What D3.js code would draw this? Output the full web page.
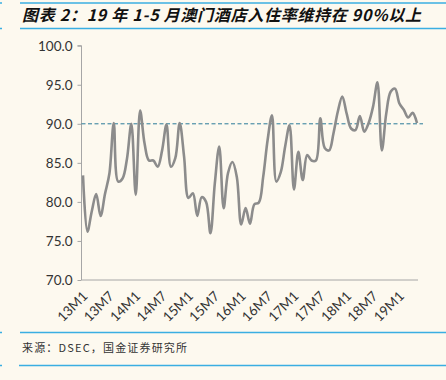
<!DOCTYPE html>
<html><head><meta charset="utf-8">
<script src="https://cdn.jsdelivr.net/npm/d3@7"></script>
<style>
html,body{margin:0;padding:0;background:#fdf9ef;}
svg{display:block;}
</style></head>
<body>
<script>
const title = "图表 2：19 年 1-5 月澳门酒店入住率维持在 90%以上";
const source = "来源：DSEC，国金证券研究所";
const yTicks = [70, 75, 80, 85, 90, 95, 100];
const refValue = 90;
// monthly periods 13M1 .. 19M5
const months = [];
for (let y = 13; y <= 19; y++) for (let m = 1; m <= 12; m++) { if (y === 19 && m > 5) break; months.push(y + "M" + m); }
const xTickLabels = ["13M1","13M7","14M1","14M7","15M1","15M7","16M1","16M7","17M1","17M7","18M1","18M7","19M1"];
const occupancy = [
  83.4, 76.2, 78.8, 81.0, 78.2, 81.0, 83.6, 90.1, 82.6, 83.0, 85.5, 90.0,
  80.9, 91.7, 87.5, 85.3, 85.3, 84.5, 86.6, 89.9, 84.5, 85.6, 90.1, 85.8,
  80.5, 81.1, 78.2, 80.6, 80.0, 76.0, 82.4, 87.1, 79.2, 83.7, 85.1, 83.2,
  77.1, 79.2, 77.2, 79.7, 79.9, 83.2, 87.9, 91.1, 82.6, 83.8, 87.1, 89.8,
  81.6, 86.4, 82.8, 86.0, 85.3, 85.3, 90.7, 86.9, 86.6, 88.8, 91.6, 93.5,
  91.3, 89.4, 89.2, 91.0, 89.0, 90.1, 92.2, 95.3, 86.6, 91.3, 94.1, 94.5,
  92.6, 91.8, 90.8, 91.4, 90.1
];

const W = 446, H = 380;
const svg = d3.select("body").append("svg").attr("width", W).attr("height", H);
const blue = "#3aaee2";

// frame lines
svg.append("line").attr("x1", 20).attr("x2", W).attr("y1", 3).attr("y2", 3).attr("stroke", blue).attr("stroke-width", 1.5);
svg.append("line").attr("x1", 20).attr("x2", W).attr("y1", 28.5).attr("y2", 28.5).attr("stroke", blue).attr("stroke-width", 1.5);
svg.append("line").attr("x1", 20).attr("x2", W).attr("y1", 332.5).attr("y2", 332.5).attr("stroke", blue).attr("stroke-width", 1.5);
svg.append("line").attr("x1", 19).attr("x2", W).attr("y1", 365.5).attr("y2", 365.5).attr("stroke", blue).attr("stroke-width", 1.5);
[3, 28.5, 332.5, 365.5].forEach(y => svg.append("line").attr("x1", 0).attr("x2", 2).attr("y1", y).attr("y2", y).attr("stroke", blue).attr("stroke-width", 1.5));

svg.append("text").attr("x", 22).attr("y", 21).text(title)
  .attr("font-family", "'Noto Sans CJK SC', sans-serif").attr("font-weight", "bold").attr("font-style", "italic")
  .attr("font-size", 16).attr("fill", "#111")
  .attr("textLength", 399).attr("lengthAdjust", "spacing");

svg.append("text").attr("x", 22).attr("y", 352).text(source)
  .attr("font-family", "'Noto Sans CJK SC', sans-serif").attr("font-size", 11).attr("fill", "#333")
  .attr("textLength", 165).attr("lengthAdjust", "spacing");

const x = d3.scalePoint().domain(months).range([83, 417]);
const y = d3.scaleLinear().domain([70, 100]).range([280, 45.7]);
const plotLeft = 81.5, plotRight = 418;

// y axis
const yAxis = svg.append("g").attr("transform", `translate(${plotLeft},0)`)
  .call(d3.axisLeft(y).tickValues(yTicks).tickFormat(d3.format(".1f")).tickSize(4).tickPadding(5));
yAxis.select(".domain").attr("stroke", "#a6a6a6").attr("d", `M-4,${y(100)}H0V${y(70)}`);
yAxis.selectAll(".tick line").attr("stroke", "#a6a6a6");
yAxis.selectAll("text").attr("font-family", "Lato, 'DejaVu Sans', sans-serif").attr("font-size", 13.5).attr("fill", "#333");

// x axis
const xAxis = svg.append("g").attr("transform", `translate(0,${y(70)})`)
  .call(d3.axisBottom(x).tickValues(xTickLabels).tickSize(0).tickPadding(0));
xAxis.select(".domain").attr("stroke", "#a6a6a6").attr("d", `M${plotLeft},0H${plotRight}`);
xAxis.selectAll("text")
  .attr("font-family", "Lato, 'DejaVu Sans', sans-serif").attr("font-size", 13.5).attr("fill", "#333")
  .attr("text-anchor", "end").attr("dy", 0).attr("y", 0)
  .attr("transform", "translate(5,17) rotate(-45)");

// reference line
svg.append("line").attr("x1", plotLeft).attr("x2", 423).attr("y1", y(refValue)).attr("y2", y(refValue))
  .attr("stroke", "#2a7b99").attr("stroke-width", 1).attr("stroke-dasharray", "4,2.5");

// series line
const line = d3.line().x((d, i) => x(months[i])).y(d => y(d)).curve(d3.curveCatmullRom.alpha(0.5));
svg.append("path").datum(occupancy).attr("d", line).attr("fill", "none")
  .attr("stroke", "#8c8c8c").attr("stroke-width", 2.6).attr("stroke-linejoin", "round");
</script>
</body></html>
